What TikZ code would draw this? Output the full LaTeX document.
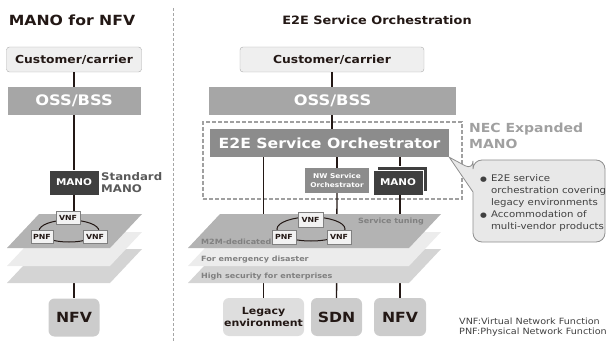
\documentclass[tikz,border=0pt]{standalone}
\usepackage{fontspec}
\setmainfont{DejaVu Sans}[FakeStretch=1.12]
\definecolor{ink}{HTML}{231815}
\definecolor{custfill}{HTML}{EFEFEF}
\definecolor{custline}{HTML}{ABABAB}
\definecolor{ossgray}{HTML}{A6A6A6}
\definecolor{orchgray}{HTML}{8C8C8C}
\definecolor{manogray}{HTML}{3F3F3F}
\definecolor{planeA}{HTML}{B3B3B3}
\definecolor{planeB}{HTML}{ECECEC}
\definecolor{planeC}{HTML}{D4D4D4}
\definecolor{basefill}{HTML}{CCCCCC}
\definecolor{legacyfill}{HTML}{DEDEDE}
\definecolor{necgray}{HTML}{A0A0A0}
\definecolor{notefill}{HTML}{E8E8E8}
\definecolor{noteline}{HTML}{8F8F8F}
\definecolor{layertext}{HTML}{808080}
\newcommand\blt{{\fontsize{7}{7}\selectfont ●}}

\begin{document}
\begin{tikzpicture}[x=1pt, y=-1pt,
    link/.style={line width=1.3pt, draw=ink},
    title/.style={text=ink, font=\bfseries\fontsize{14}{17}\selectfont},
    cust/.style={draw=custline, fill=custfill, rounded corners=3pt, inner sep=0pt, minimum height=25pt, text=ink, font=\bfseries\fontsize{11}{13}\selectfont},
    oss/.style={fill=ossgray, inner sep=0pt, minimum height=28pt, text=white, font=\bfseries\fontsize{14.5}{17}\selectfont},
    orch/.style={fill=orchgray, inner sep=0pt, text=white, align=center},
    mano/.style={fill=manogray, draw=white, line width=.8pt, inner sep=0pt, minimum width=50pt, minimum height=25pt, text=white, font=\bfseries\fontsize{9.3}{11}\selectfont},
    fn/.style={fill=white!95!black, draw=gray, line width=.6pt, inner sep=0pt, minimum width=24pt, minimum height=13pt, text=ink, font=\bfseries\fontsize{7}{8}\selectfont},
    base/.style={fill=#1, rounded corners=6pt, inner sep=0pt, minimum height=38pt, align=center, text=ink, font=\bfseries\fontsize{14}{17}\selectfont},
    layer/.style={inner sep=0pt, text=layertext, font=\bfseries\fontsize{7.2}{9}\selectfont},
    ring/.style={line width=1pt, draw=ink}]

\useasboundingbox (0,0) rectangle (608,342);

% divider between the two halves
\draw[gray!70, line width=1pt, dash pattern=on 3pt off 2pt] (173,8) -- (173,342);

%%% MANO for NFV
\node[title] (ttlL) at (72,20) {MANO for NFV};
\node[cust, minimum width=135pt] (custL) at (74,59.5) {Customer/carrier};
\node[oss, minimum width=133pt] (ossL) at (74,101) {OSS/BSS};
\node[mano] (manoL) at (74,182.5) {MANO};
\node[anchor=west, align=left, inner sep=0pt, text=black!65, font=\bfseries\fontsize{10.5}{12}\selectfont] (stdL) at (101,183) {Standard\\MANO};
\node[base=basefill, minimum width=51pt] (nfvL) at (74,317.5) {NFV};

\draw[link] (custL) -- (ossL);
\draw[link] (ossL) -- (manoL);
\draw[link] (manoL) -- (nfvL);

\foreach \d/\c in {35/planeC, 18/planeB, 0/planeA}
    \fill[\c] (7,248+\d) -- (110,248+\d) -- (142,214+\d) -- (39,214+\d) -- cycle;

\draw[ring] (69,231) ellipse [x radius=30pt, y radius=11pt];
\node[fn] (vnfLa) at (68,218) {VNF};
\node[fn, minimum width=22pt] (pnfL) at (42,237) {PNF};
\node[fn] (vnfLb) at (95,237) {VNF};

%%% E2E Service Orchestration
\node[title, font=\bfseries\fontsize{11.5}{14}\selectfont] (ttlR) at (377,20) {E2E Service Orchestration};
\node[cust, minimum width=184pt] (custR) at (332,59.5) {Customer/carrier};
\node[oss, minimum width=247pt] (ossR) at (332.5,101) {OSS/BSS};
\node[draw=necgray, line width=1.1pt, dash pattern=on 4pt off 2pt, minimum width=259pt, minimum height=77pt] (nec) at (332.5,160.5) {};
\node[orch, minimum width=239pt, minimum height=28pt, font=\bfseries\fontsize{14}{17}\selectfont] (e2e) at (329.5,143) {E2E Service Orchestrator};
\node[orch, minimum width=64pt, minimum height=25pt, font=\bfseries\fontsize{6.6}{9}\selectfont] (nwso) at (337,180.5) {NW Service\\Orchestrator};
\node[mano] (manoRb) at (402,178.5) {};
\node[mano] (manoR) at (398,182.5) {MANO};
\node[anchor=west, align=left, inner sep=0pt, text=necgray, font=\bfseries\fontsize{12.5}{16}\selectfont] (necL) at (469,136) {NEC Expanded\\MANO};

\node[base=legacyfill, minimum width=81pt, font=\bfseries\fontsize{9.8}{12}\selectfont] (legacy) at (263.5,317) {Legacy\\environment};
\node[base=basefill, minimum width=51pt] (sdn) at (336.5,317) {SDN};
\node[base=basefill, minimum width=52pt] (nfvR) at (400,317) {NFV};

\draw[link] (custR) -- (custR |- ossR.north);
\draw[link] (ossR.south -| custR) -- (custR |- e2e.north);
\draw[link] (e2e.south -| legacy) -- (legacy);
\draw[link] (e2e.south -| nwso) -- (nwso);
\draw[link] (nwso) -- (sdn);
\draw[link] (e2e.south -| nfvR) -- (manoRb.north -| nfvR);
\draw[link] (manoR.south -| nfvR) -- (nfvR);

\foreach \d/\c in {35/planeC, 18/planeB, 0/planeA}
    \fill[\c] (188,248+\d) -- (409,248+\d) -- (441,214+\d) -- (220,214+\d) -- cycle;

\node[layer] (tune) at (391,222) {Service tuning};
\node[layer, anchor=west] (m2m) at (201,242) {M2M-dedicated};
\node[layer, anchor=west] (emerg) at (201,260) {For emergency disaster};
\node[layer, anchor=west] (secure) at (201,277) {High security for enterprises};

\draw[ring] (311,229) ellipse [x radius=34pt, y radius=12pt];
\node[fn, minimum width=25pt, minimum height=15pt] (vnfRa) at (310.5,219.5) {VNF};
\node[fn, minimum height=14pt] (pnfR) at (284,237) {PNF};
\node[fn, minimum height=14pt] (vnfRb) at (339,237) {VNF};

% balloon
\draw[fill=notefill, draw=noteline, line width=.8pt, rounded corners=9pt] (473,200) -- (473,242) -- (605,242) -- (605,160) -- (473,160) -- (473,170) [sharp corners] -- (e2e.south east) -- (473,192) -- cycle;
\node[anchor=west, inner sep=0pt, text=black!75, font=\fontsize{9.1}{12}\selectfont] (note) at (480,203)
    {\begin{tabular}{@{}l@{\hspace{4pt}}l@{}}
     \blt & E2E service\\
          & orchestration covering\\
          & legacy environments\\
     \blt & Accommodation of\\
          & multi-vendor products
     \end{tabular}};

\node[anchor=north west, align=left, inner sep=0pt, text=black!75, font=\fontsize{8.6}{10}\selectfont] (legend) at (459,318) {VNF:Virtual Network Function\\PNF:Physical Network Function};

\end{tikzpicture}
\end{document}
